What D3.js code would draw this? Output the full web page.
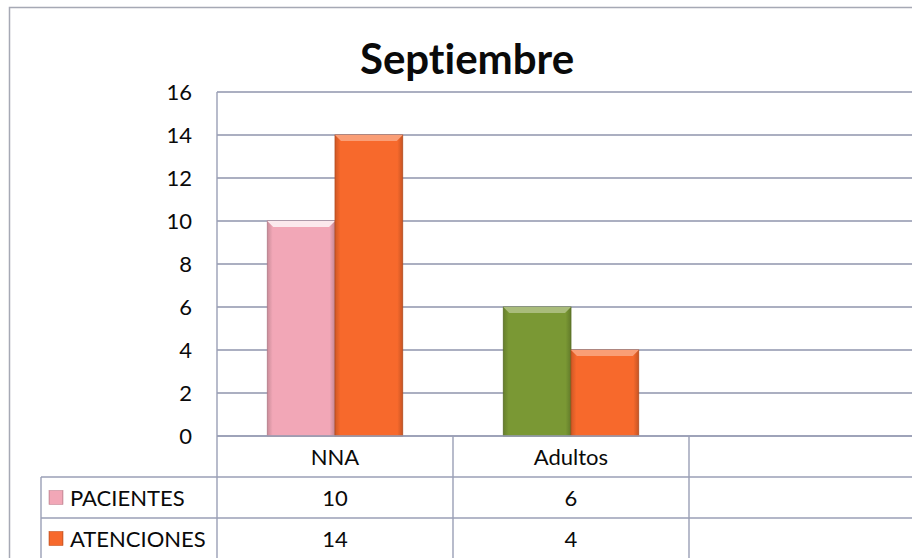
<!doctype html>
<html>
  <head>
    <meta charset="utf-8">
    <title>Septiembre</title>
    <style>
      body { margin: 0; background: #fff; }
      text { font-family: Lato, "Open Sans", sans-serif; fill: #0a0a0a; font-variant-ligatures: none; }
      .grid line { stroke: #8f95ad; stroke-width: 1.6px; }
      .tbl line { stroke: #9a9fb6; stroke-width: 1.4px; }
    </style>
    <script src="https://cdn.jsdelivr.net/npm/d3@7"></script>
  </head>
  <body>
  <script>
    // chart data
    const categories = ["NNA", "Adultos", ""];
    const seriesNames = ["PACIENTES", "ATENCIONES"];
    const pacientes = [10, 6, null];
    const atenciones = [14, 4, null];
    const yTicks = [0, 2, 4, 6, 8, 10, 12, 14, 16];

    // pacientes bars vary by point, atenciones stay orange
    const pacColors = ["#f2a7b7", "#7a9834", "#f2a7b7"];
    const atnColor = "#f7692c";

    const width = 912, height = 558;
    const plot = {left: 217, top: 92, right: 925, bottom: 436};
    const rowH = 41;
    const fontPx = "22px";

    const svg = d3.select("body").append("svg")
      .attr("width", width)
      .attr("height", height);

    const defs = svg.append("defs");

    // horizontal shading gives the bars a rounded bevel look
    function bevelGradient(id, color) {
      const c = d3.color(color);
      const g = defs.append("linearGradient").attr("id", id)
        .attr("x1", "0%").attr("x2", "100%").attr("y1", "0%").attr("y2", "0%");
      g.append("stop").attr("offset", "0%").attr("stop-color", c.darker(0.5));
      g.append("stop").attr("offset", "8%").attr("stop-color", c);
      g.append("stop").attr("offset", "92%").attr("stop-color", c);
      g.append("stop").attr("offset", "100%").attr("stop-color", c.darker(0.6));
    }
    pacColors.forEach((c, i) => bevelGradient("pac" + i, c));
    bevelGradient("atn", atnColor);

    // outer chart border (runs off right and bottom)
    svg.append("rect")
      .attr("x", 9.5).attr("y", 7.5)
      .attr("width", 1000).attr("height", 600)
      .attr("fill", "none")
      .attr("stroke", "#a6a9b5")
      .attr("stroke-width", 1.5);

    // title
    svg.append("text")
      .attr("x", 467).attr("y", 74)
      .attr("text-anchor", "middle")
      .style("font-size", "42px")
      .style("font-weight", "bold")
      .text("Septiembre");

    const x0 = d3.scaleBand()
      .domain(categories)
      .range([plot.left, plot.right]);

    const gap = x0.bandwidth() * 0.213;
    const x1 = d3.scaleBand()
      .domain(seriesNames)
      .range([gap, x0.bandwidth() - gap]);

    const y = d3.scaleLinear()
      .domain([0, 16])
      .range([plot.bottom, plot.top]);

    // gridlines
    svg.append("g").attr("class", "grid")
      .selectAll("line")
      .data(yTicks)
      .enter().append("line")
      .attr("x1", plot.left).attr("x2", width)
      .attr("y1", d => y(d)).attr("y2", d => y(d));

    // y axis labels
    const yAxis = d3.axisLeft(y).tickValues(yTicks).tickSize(0).tickPadding(25);
    const ya = svg.append("g")
      .attr("transform", "translate(" + plot.left + ",0)")
      .call(yAxis);
    ya.select(".domain").remove();
    ya.selectAll("text")
      .style("font-size", fontPx)
      .style("font-family", "Lato, sans-serif")
      .attr("fill", "#0a0a0a");

    // bars
    const rows = categories.map((c, i) => ({cat: c, idx: i, vals: [pacientes[i], atenciones[i]]}));

    const groups = svg.append("g").selectAll("g")
      .data(rows)
      .enter().append("g")
      .attr("transform", d => "translate(" + x0(d.cat) + ",0)");

    const bars = groups.selectAll("g.bar")
      .data(d => d.vals.map((v, k) => ({v: v, k: k, idx: d.idx})).filter(b => b.v != null))
      .enter().append("g").attr("class", "bar");

    function barFill(b) { return b.k === 0 ? pacColors[b.idx] : atnColor; }

    bars.append("rect")
      .attr("x", b => x1(seriesNames[b.k]))
      .attr("y", b => y(b.v))
      .attr("width", x1.bandwidth())
      .attr("height", b => y(0) - y(b.v))
      .attr("fill", b => "url(#" + (b.k === 0 ? "pac" + b.idx : "atn") + ")")
      .attr("stroke", b => d3.color(barFill(b)).darker(0.9))
      .attr("stroke-width", 0.8);

    // top bevel strip
    bars.append("path")
      .attr("d", b => {
        const x = x1(seriesNames[b.k]), w = x1.bandwidth(), t = y(b.v), h = 6;
        return "M" + x + "," + t + "L" + (x + w) + "," + t +
          "L" + (x + w - 6) + "," + (t + h) + "L" + (x + 6) + "," + (t + h) + "Z";
      })
      .attr("fill", b => d3.interpolateRgb(barFill(b), "#fff")(b.k === 0 && b.idx === 0 ? 0.75 : 0.35));

    // data table
    const tbl = svg.append("g").attr("class", "tbl");
    const tblLeft = 41;
    const tblBottom = height + 5;

    tbl.append("line")
      .attr("x1", plot.left).attr("x2", width)
      .attr("y1", plot.bottom).attr("y2", plot.bottom);
    [1, 2].forEach(r => {
      tbl.append("line")
        .attr("x1", tblLeft).attr("x2", width)
        .attr("y1", plot.bottom + r * rowH).attr("y2", plot.bottom + r * rowH);
    });
    tbl.append("line")
      .attr("x1", plot.left).attr("x2", plot.left)
      .attr("y1", plot.top).attr("y2", tblBottom);
    tbl.append("line")
      .attr("x1", tblLeft).attr("x2", tblLeft)
      .attr("y1", plot.bottom + rowH).attr("y2", tblBottom);
    categories.slice(1).forEach(c => {
      tbl.append("line")
        .attr("x1", x0(c)).attr("x2", x0(c))
        .attr("y1", plot.bottom).attr("y2", tblBottom);
    });

    // category labels
    svg.append("g").selectAll("text")
      .data(categories)
      .enter().append("text")
      .attr("x", d => x0(d) + x0.bandwidth() / 2)
      .attr("y", plot.bottom + rowH / 2 + 8)
      .attr("text-anchor", "middle")
      .style("font-size", fontPx)
      .text(d => d);

    // series rows: legend key, name, values
    const seriesVals = [pacientes, atenciones];
    seriesNames.forEach((name, s) => {
      const cy = plot.bottom + (s + 1) * rowH + rowH / 2;
      const keyColor = s === 0 ? pacColors[0] : atnColor;
      svg.append("rect")
        .attr("x", 49).attr("y", cy - 7)
        .attr("width", 14).attr("height", 14)
        .attr("fill", s === 0 ? "url(#pac0)" : "url(#atn)")
        .attr("stroke", d3.color(keyColor).darker(0.6))
        .attr("stroke-width", 0.6);
      svg.append("text")
        .attr("x", 70).attr("y", cy + 8)
        .style("font-size", fontPx)
        .text(name);
      svg.append("g").selectAll("text")
        .data(categories.map((c, i) => ({c: c, v: seriesVals[s][i]})).filter(d => d.v != null))
        .enter().append("text")
        .attr("x", d => x0(d.c) + x0.bandwidth() / 2)
        .attr("y", cy + 8)
        .attr("text-anchor", "middle")
        .style("font-size", fontPx)
        .text(d => d.v);
    });
  </script>
  </body>
</html>
